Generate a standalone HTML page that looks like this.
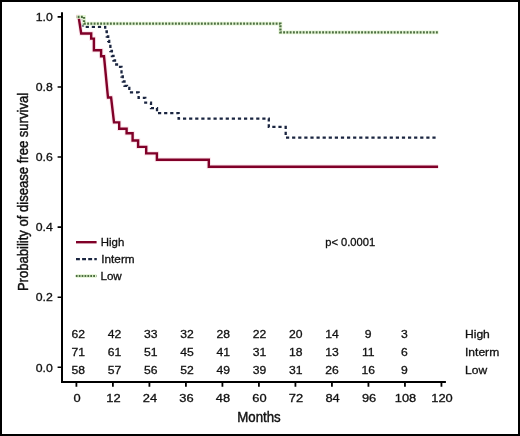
<!DOCTYPE html>
<html><head><meta charset="utf-8"><style>
html,body{margin:0;padding:0;background:#fff;}
svg{display:block;will-change:transform;}
text{font-family:"Liberation Sans",sans-serif;fill:#111;stroke:#111;stroke-width:0.3px;}
</style></head><body>
<svg width="520" height="436" viewBox="0 0 520 436">
<rect x="0" y="0" width="520" height="436" fill="#fff"/>
<rect x="1" y="1" width="518" height="434" fill="none" stroke="#000" stroke-width="2"/>

<path d="M62,12.2 V383 M61,382 H445.9" stroke="#000" stroke-width="2" fill="none"/>
<path d="M57.6,367.30 H62 M57.6,297.22 H62 M57.6,227.14 H62 M57.6,157.06 H62 M57.6,86.98 H62 M57.6,16.90 H62 " stroke="#000" stroke-width="1.6" fill="none"/>
<path d="M76.40,382 V386.8 M112.90,382 V386.8 M149.41,382 V386.8 M185.91,382 V386.8 M222.42,382 V386.8 M258.92,382 V386.8 M295.42,382 V386.8 M331.93,382 V386.8 M368.43,382 V386.8 M404.94,382 V386.8 M441.44,382 V386.8 " stroke="#000" stroke-width="1.8" fill="none"/>
<text x="0" y="0" font-size="11.5" text-anchor="end" transform="translate(52.80,371.50) scale(1.070,1)">0.0</text>
<text x="0" y="0" font-size="11.5" text-anchor="end" transform="translate(52.80,301.42) scale(1.070,1)">0.2</text>
<text x="0" y="0" font-size="11.5" text-anchor="end" transform="translate(52.80,231.34) scale(1.070,1)">0.4</text>
<text x="0" y="0" font-size="11.5" text-anchor="end" transform="translate(52.80,161.26) scale(1.070,1)">0.6</text>
<text x="0" y="0" font-size="11.5" text-anchor="end" transform="translate(52.80,91.18) scale(1.070,1)">0.8</text>
<text x="0" y="0" font-size="11.5" text-anchor="end" transform="translate(52.80,21.10) scale(1.070,1)">1.0</text>
<text x="0" y="0" font-size="11.2" text-anchor="middle" transform="translate(77.00,401.80) scale(1.150,1)">0</text>
<text x="0" y="0" font-size="11.2" text-anchor="middle" transform="translate(113.50,401.80) scale(1.150,1)">12</text>
<text x="0" y="0" font-size="11.2" text-anchor="middle" transform="translate(150.01,401.80) scale(1.150,1)">24</text>
<text x="0" y="0" font-size="11.2" text-anchor="middle" transform="translate(186.51,401.80) scale(1.150,1)">36</text>
<text x="0" y="0" font-size="11.2" text-anchor="middle" transform="translate(223.02,401.80) scale(1.150,1)">48</text>
<text x="0" y="0" font-size="11.2" text-anchor="middle" transform="translate(259.52,401.80) scale(1.150,1)">60</text>
<text x="0" y="0" font-size="11.2" text-anchor="middle" transform="translate(296.02,401.80) scale(1.150,1)">72</text>
<text x="0" y="0" font-size="11.2" text-anchor="middle" transform="translate(332.53,401.80) scale(1.150,1)">84</text>
<text x="0" y="0" font-size="11.2" text-anchor="middle" transform="translate(369.03,401.80) scale(1.150,1)">96</text>
<text x="0" y="0" font-size="11.2" text-anchor="middle" transform="translate(405.54,401.80) scale(1.150,1)">108</text>
<text x="0" y="0" font-size="11.2" text-anchor="middle" transform="translate(442.04,401.80) scale(1.150,1)">120</text>
<text x="0" y="0" font-size="11.7" text-anchor="middle" transform="translate(78.30,337.70) scale(1.040,1)">62</text>
<text x="0" y="0" font-size="11.7" text-anchor="middle" transform="translate(114.54,337.70) scale(1.040,1)">42</text>
<text x="0" y="0" font-size="11.7" text-anchor="middle" transform="translate(150.78,337.70) scale(1.040,1)">33</text>
<text x="0" y="0" font-size="11.7" text-anchor="middle" transform="translate(187.02,337.70) scale(1.040,1)">32</text>
<text x="0" y="0" font-size="11.7" text-anchor="middle" transform="translate(223.26,337.70) scale(1.040,1)">28</text>
<text x="0" y="0" font-size="11.7" text-anchor="middle" transform="translate(259.50,337.70) scale(1.040,1)">22</text>
<text x="0" y="0" font-size="11.7" text-anchor="middle" transform="translate(295.74,337.70) scale(1.040,1)">20</text>
<text x="0" y="0" font-size="11.7" text-anchor="middle" transform="translate(331.98,337.70) scale(1.040,1)">14</text>
<text x="0" y="0" font-size="11.7" text-anchor="middle" transform="translate(368.22,337.70) scale(1.040,1)">9</text>
<text x="0" y="0" font-size="11.7" text-anchor="middle" transform="translate(404.46,337.70) scale(1.040,1)">3</text>
<text x="0" y="0" font-size="11.5" text-anchor="start" transform="translate(465.00,337.70) scale(1.050,1)">High</text>
<text x="0" y="0" font-size="11.7" text-anchor="middle" transform="translate(78.30,355.70) scale(1.040,1)">71</text>
<text x="0" y="0" font-size="11.7" text-anchor="middle" transform="translate(114.54,355.70) scale(1.040,1)">61</text>
<text x="0" y="0" font-size="11.7" text-anchor="middle" transform="translate(150.78,355.70) scale(1.040,1)">51</text>
<text x="0" y="0" font-size="11.7" text-anchor="middle" transform="translate(187.02,355.70) scale(1.040,1)">45</text>
<text x="0" y="0" font-size="11.7" text-anchor="middle" transform="translate(223.26,355.70) scale(1.040,1)">41</text>
<text x="0" y="0" font-size="11.7" text-anchor="middle" transform="translate(259.50,355.70) scale(1.040,1)">31</text>
<text x="0" y="0" font-size="11.7" text-anchor="middle" transform="translate(295.74,355.70) scale(1.040,1)">18</text>
<text x="0" y="0" font-size="11.7" text-anchor="middle" transform="translate(331.98,355.70) scale(1.040,1)">13</text>
<text x="0" y="0" font-size="11.7" text-anchor="middle" transform="translate(368.22,355.70) scale(1.040,1)">11</text>
<text x="0" y="0" font-size="11.7" text-anchor="middle" transform="translate(404.46,355.70) scale(1.040,1)">6</text>
<text x="0" y="0" font-size="11.5" text-anchor="start" transform="translate(465.00,355.70) scale(1.050,1)">Interm</text>
<text x="0" y="0" font-size="11.7" text-anchor="middle" transform="translate(78.30,373.60) scale(1.040,1)">58</text>
<text x="0" y="0" font-size="11.7" text-anchor="middle" transform="translate(114.54,373.60) scale(1.040,1)">57</text>
<text x="0" y="0" font-size="11.7" text-anchor="middle" transform="translate(150.78,373.60) scale(1.040,1)">56</text>
<text x="0" y="0" font-size="11.7" text-anchor="middle" transform="translate(187.02,373.60) scale(1.040,1)">52</text>
<text x="0" y="0" font-size="11.7" text-anchor="middle" transform="translate(223.26,373.60) scale(1.040,1)">49</text>
<text x="0" y="0" font-size="11.7" text-anchor="middle" transform="translate(259.50,373.60) scale(1.040,1)">39</text>
<text x="0" y="0" font-size="11.7" text-anchor="middle" transform="translate(295.74,373.60) scale(1.040,1)">31</text>
<text x="0" y="0" font-size="11.7" text-anchor="middle" transform="translate(331.98,373.60) scale(1.040,1)">26</text>
<text x="0" y="0" font-size="11.7" text-anchor="middle" transform="translate(368.22,373.60) scale(1.040,1)">16</text>
<text x="0" y="0" font-size="11.7" text-anchor="middle" transform="translate(404.46,373.60) scale(1.040,1)">9</text>
<text x="0" y="0" font-size="11.5" text-anchor="start" transform="translate(465.00,373.60) scale(1.050,1)">Low</text>
<text x="0" y="0" font-size="11" text-anchor="start" transform="translate(325.20,245.80) scale(1.015,1)">p&lt; 0.0001</text>
<path d="M76,242.2 H96.6" stroke="#800028" stroke-width="2.4" fill="none"/>
<path d="M76,259.2 H96.8" stroke="#1a2540" stroke-width="2.3" stroke-dasharray="3.9 2.2" fill="none"/>
<path d="M75.8,276 H96.5" stroke="#e6f5d6" stroke-width="3.8" fill="none"/>
<path d="M75.8,276 H96.5" stroke="#4b6e40" stroke-width="2.2" stroke-dasharray="1.8 1.1" fill="none"/>
<text x="0" y="0" font-size="11" text-anchor="start" transform="translate(100.80,245.50) scale(1.040,1)">High</text>
<text x="0" y="0" font-size="11" text-anchor="start" transform="translate(101.30,262.50) scale(1.070,1)">Interm</text>
<text x="0" y="0" font-size="11" text-anchor="start" transform="translate(100.40,279.50) scale(1.060,1)">Low</text>
<text x="0" y="0" font-size="15.5" text-anchor="middle" style="stroke-width:0.45px" transform="translate(259,422.4) scale(0.855,1)">Months</text>
<text x="0" y="0" font-size="14.8" text-anchor="middle" style="stroke-width:0.45px" transform="translate(27.9,192) rotate(-90) scale(0.883,1)">Probability of disease free survival</text>
<path d="M76.3,16.8 H78.6 L81.2,33.5 H91.2 V38.6 H93.9 V50.3 H101.1 V56.3 H104 L108,97.5 H111.1 L114,122.4 H119.2 V128.8 H126.6 V133.2 H132.6 V140.5 H138.1 V146.9 H146.2 V153.4 H156.9 V159.7 H208.8 V166.7 H438.1" stroke="#fbe6ec" stroke-width="4.4" fill="none"/>
<path d="M76.3,16.8 H78.6 L81.2,33.5 H91.2 V38.6 H93.9 V50.3 H101.1 V56.3 H104 L108,97.5 H111.1 L114,122.4 H119.2 V128.8 H126.6 V133.2 H132.6 V140.5 H138.1 V146.9 H146.2 V153.4 H156.9 V159.7 H208.8 V166.7 H438.1" stroke="#800028" stroke-width="2.4" fill="none"/>
<path d="M76.3,16.8 H83 V26.8 H105.2 V31.5 H106.8 V36.5 H108.2 V41 H109.2 V46 H110.4 V51 H111.9 V56 H113.5 V60.5 H115 V64.5 H117 V66.8 H121.5 V76.5 H122.8 V81.5 H124.5 V85.8 H127 V88 H129.3 V92.4 H138.6 V97.8 H145.3 V102.7 H151 V108.1 H157 V113.1 H178.6 V118.6 H268.8 V126.9 H285.7 V137.6 H435.9" stroke="#1a2540" stroke-width="2.3" stroke-dasharray="3.2 2.9" stroke-dashoffset="-1.1" fill="none"/>
<path d="M76.3,16.8 H84 V23.55 H280.4 V32.3 H438.6" stroke="#e6f5d6" stroke-width="3.8" fill="none"/>
<path d="M76.3,16.8 H84 V23.55 H280.4 V32.3 H438.6" stroke="#4b6e40" stroke-width="2.3" stroke-dasharray="1.9 1.35" stroke-dashoffset="-1.35" fill="none"/>
</svg></body></html>
